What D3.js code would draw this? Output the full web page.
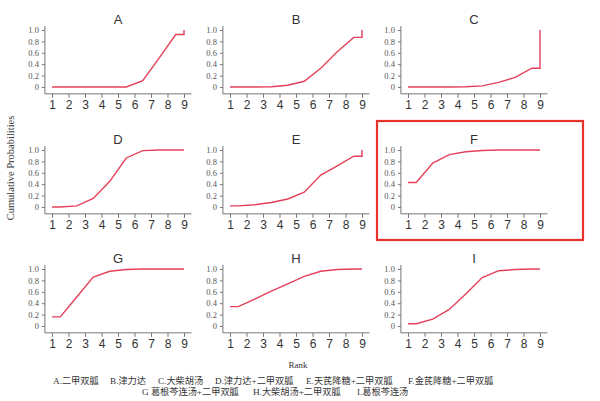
<!DOCTYPE html>
<html><head><meta charset="utf-8">
<script src="https://cdn.jsdelivr.net/npm/d3@7"></script>
<style>body{margin:0;background:#fff}</style>
</head><body>
<svg id="c" width="600" height="401"></svg>
<script>
const panels = ["A","B","C","D","E","F","G","H","I"];
const ranks = [1,2,3,4,5,6,7,8,9];
const yTicks = [0,0.2,0.4,0.6,0.8,1.0];
// cumulative probabilities by rank (1..9)
const cumA = [0,0,0,0,0,0.11,0.51,0.92,1];
const cumB = [0,0,0.005,0.03,0.1,0.33,0.62,0.87,1];
const cumC = [0,0,0,0.005,0.02,0.08,0.17,0.33,1];
const cumD = [0,0.02,0.15,0.45,0.86,0.99,1,1,1];
const cumE = [0.02,0.04,0.08,0.14,0.26,0.56,0.72,0.89,1];
const cumF = [0.43,0.77,0.92,0.97,0.99,1,1,1,1];
const cumG = [0.16,0.51,0.86,0.96,0.99,1,1,1,1];
const cumH = [0.34,0.47,0.61,0.74,0.87,0.96,0.99,1,1];
const cumI = [0.04,0.12,0.29,0.56,0.85,0.97,0.99,1,1];
const series = [cumA,cumB,cumC,cumD,cumE,cumF,cumG,cumH,cumI];
const legend1 = ["A.二甲双胍","B.津力达","C.大柴胡汤","D.津力达+二甲双胍","E.天芪降糖+二甲双胍","F.金芪降糖+二甲双胍"];
const legend2 = ["G 葛根芩连汤+二甲双胍","H.大柴胡汤+二甲双胍","I.葛根芩连汤"];

const svg = d3.select("#c");
const colX = [52,230,408], rowY = [30,150,269];
const W = 132, H = 57;
const lineColor = "#e4405a";
const axisColor = "#777";

series.forEach((vals,i)=>{
  const ox = colX[i%3], oy = rowY[Math.floor(i/3)];
  const x = d3.scaleLinear().domain([1,9]).range([ox, ox+W]);
  const y = d3.scaleLinear().domain([0,1]).range([oy+H, oy]);
  const g = svg.append("g");
  const pts = [[1, vals[0]]];
  for(let k=1;k<=8;k++) pts.push([k+0.5, vals[k-1]]);
  pts.push([9, vals[7]]);
  pts.push([9, vals[8]]);
  const yAxis = d3.axisLeft(y).tickValues(yTicks).tickSize(3).tickSizeOuter(0)
    .tickFormat(d=> d===0 ? "0" : d3.format(".1f")(d));
  const ya = g.append("g").attr("transform",`translate(${x(0.57)},0)`).call(yAxis);
  ya.select(".domain").remove();
  ya.append("line").attr("x1",0).attr("x2",0).attr("y1",y(1.07)).attr("y2",y(-0.12)).attr("stroke",axisColor);
  ya.selectAll(".tick line").attr("stroke",axisColor);
  ya.selectAll(".tick text").attr("font-family","Liberation Serif, serif").attr("font-size",8.5).attr("fill","#555").attr("x",-6);
  const xAxis = d3.axisBottom(x).tickValues(ranks).tickSize(4).tickSizeOuter(0);
  const xa = g.append("g").attr("transform",`translate(0,${y(-0.12)})`).call(xAxis);
  xa.select(".domain").remove();
  xa.append("line").attr("x1",x(0.57)).attr("x2",x(9.45)).attr("y1",0).attr("y2",0).attr("stroke",axisColor);
  xa.selectAll(".tick line").attr("stroke",axisColor);
  xa.selectAll(".tick text").attr("font-family","Liberation Sans, Arial, sans-serif").attr("font-size",12).attr("fill","#333").attr("y",7);
  g.append("text").attr("x",x(5)).attr("y",oy-6).attr("text-anchor","middle")
    .attr("font-family","Liberation Sans, Arial, sans-serif").attr("font-size",13).attr("fill","#333").text(panels[i]);
  g.append("path").datum(pts)
    .attr("d", d3.line().x(d=>x(d[0])).y(d=>y(d[1])))
    .attr("fill","none").attr("stroke",lineColor).attr("stroke-width",1.4);
});

svg.append("rect").attr("x",377).attr("y",121).attr("width",206).attr("height",119)
  .attr("fill","none").attr("stroke","#e8322c").attr("stroke-width",2.2);

svg.append("text").attr("transform","translate(14,168) rotate(-90)").attr("text-anchor","middle")
  .attr("font-family","Liberation Serif, serif").attr("font-size",10.5).attr("fill","#333").text("Cumulative Probabilities");
svg.append("text").attr("x",298).attr("y",368).attr("text-anchor","middle")
  .attr("font-family","Liberation Serif, serif").attr("font-size",9).attr("fill","#333").text("Rank");

const l1x = [53,110,158,215,306,408], l2x = [142,253,357];
const lf = "Liberation Serif, 'Noto Sans CJK SC', serif";
legend1.forEach((t,i)=> svg.append("text").attr("x",l1x[i]).attr("y",384).attr("font-family",lf).attr("font-size",9.2).attr("fill","#333").text(t));
legend2.forEach((t,i)=> svg.append("text").attr("x",l2x[i]).attr("y",395).attr("font-family",lf).attr("font-size",9.2).attr("fill","#333").text(t));
</script>
</body></html>
